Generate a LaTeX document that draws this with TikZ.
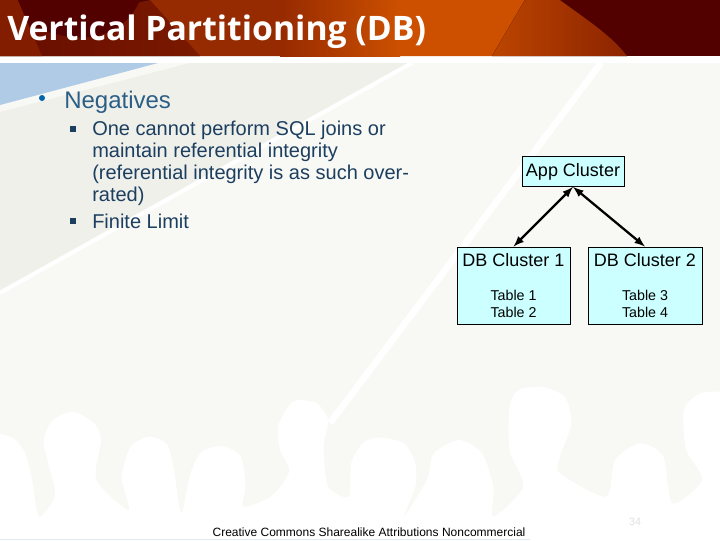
\documentclass[tikz,border=0pt]{standalone}
\usepackage{fontspec}
\setmainfont{Liberation Sans}
\newfontfamily\titlefont{Open Sans}
\newcommand{\tablefont}{\fontsize{10.7}{12.75}\selectfont}
\newcommand{\clusterfont}{\fontsize{13.5}{15}\selectfont}
\definecolor{bandDark}{HTML}{520000}
\definecolor{bandRed}{HTML}{962A00}
\definecolor{bandOrange}{HTML}{CC5000}
\definecolor{paleGround}{HTML}{F8F8F4}
\definecolor{greyWedge}{HTML}{F0F0EB}
\definecolor{blueWedge}{HTML}{B0CBE6}
\definecolor{boxCyan}{HTML}{CCFFFF}
\definecolor{headBlue}{HTML}{2B5F85}
\definecolor{subBlue}{HTML}{1C3F60}
\tikzset{
    cluster/.style={draw=black, line width=0.6pt, fill=boxCyan, inner sep=0pt, align=center},
    link/.style={line width=1.7pt, latex-latex},
    subbullet/.style={fill=subBlue, inner sep=0pt, minimum size=3.8pt}
}
\begin{document}
\begin{tikzpicture}[x=0.75pt, y=-0.75pt]
    \useasboundingbox (0,0) rectangle (720,540);
    % background of the slide
    \fill[white] (0,0) rectangle (720,540);
    \fill[paleGround] (0,63) rectangle (720,540);
    \fill[greyWedge] (190,63) -- (407,63) -- (0,290) -- (0,112) -- cycle;
    \draw[white, line width=3pt] (412,63) -- (0,293);
    \fill[blueWedge] (0,63) -- (158,63) -- (0,105) -- cycle;
    \draw[white, line width=5pt] (601,63) -- (330,423);

    % white heads along the bottom
    \begin{scope}[shift={(0,340)}, xscale=0.459, yscale=0.3333]
        \fill[white] plot[smooth, tension=0.45] coordinates {(-5,280) (30,295) (55,340) (70,420) (85,530) (120,465) (105,370) (95,300) (115,240) (160,215) (205,250) (220,300) (210,420) (280,510) (265,410) (285,320) (325,290) (365,315) (380,400) (395,520) (415,400) (440,335) (485,318) (525,350) (535,440) (530,500) (590,470) (630,395) (610,330) (605,260) (630,195) (650,180) (690,190) (715,240) (705,320) (715,440) (760,470) (765,370) (790,310) (825,292) (880,310) (905,370) (905,440) (880,530) (930,420) (945,340) (1000,300) (1050,340) (1075,440) (1075,530) (1140,440) (1110,330) (1110,200) (1130,150) (1180,140) (1230,170) (1245,250) (1220,350) (1220,400) (1320,470) (1340,360) (1395,310) (1445,350) (1465,490) (1530,420) (1495,330) (1490,210) (1525,160) (1575,155)} -- (1575,600) -- (-5,600) -- cycle;
    \end{scope}
    \fill[blueWedge!40] (0,538.5) rectangle (530,540);

    % title band
    \fill[bandDark] (0,0) rectangle (720,56);
    \fill[left color=bandDark!70!bandRed, right color=bandRed!60!bandDark] (0,56) -- (0,28) -- (150,0) -- (200,56) -- cycle;
    \fill[bandRed] (150,0) -- (281,0) -- (281,56) -- (200,56) -- cycle;
    \fill[left color=bandRed, right color=bandOrange] (280,0) rectangle (400,56);
    \fill[bandOrange] (399.5,0) -- (530,0) -- (492,56) -- (399.5,56) -- cycle;
    \fill[left color=bandOrange!70!bandRed, right color=bandRed!85!bandDark] (525,0) -- (560,0) .. controls (590,22) and (612,36) .. (627,56) -- (492,56) -- cycle;
    \fill[bandRed!70!bandDark] (0,0) -- (18,0) -- (42,56) -- (0,56) -- cycle;
    \fill[bandDark] (18,0) -- (140,0) .. controls (130,25) and (100,45) .. (60,35) -- (30,28) -- cycle;
    \node[anchor=west, text=white, inner sep=0pt, font=\titlefont\bfseries\fontsize{25.3}{28}\selectfont] (title) at (7,32) {Vertical Partitioning (DB)};

    % bullets on the left
    \fill[blue!45!black!60!cyan] (42,98) circle (3);
    \node[anchor=west, text=headBlue, font=\fontsize{18}{22}\selectfont, inner sep=0pt] (negatives) at (64,102) {Negatives};
    \node[subbullet] (bulleta) at (73,129) {};
    \node[anchor=north west, text=subBlue, align=left, font=\fontsize{15}{16.5}\selectfont, inner sep=0pt] (joins) at (92,121) {One cannot perform SQL joins or\\maintain referential integrity\\(referential integrity is as such over-\\rated)};
    \node[subbullet] (bulletb) at (73,221) {};
    \node[anchor=west, text=subBlue, font=\fontsize{15}{16.5}\selectfont, inner sep=0pt] (limit) at (92,221) {Finite Limit};

    % clusters
    \node[cluster, minimum width=76.5pt, minimum height=22.5pt, font=\clusterfont] (app) at (573,171.5) {App Cluster};
    \node[cluster, minimum width=84.75pt, minimum height=57.75pt] (dba) at (513.5,285.5) {\clusterfont DB Cluster 1\\[13.5pt]\tablefont Table 1\\[0.7pt]\tablefont Table 2};
    \node[cluster, minimum width=85.5pt, minimum height=57.75pt] (dbb) at (645,285.5) {\clusterfont DB Cluster 2\\[13.5pt]\tablefont Table 3\\[0.7pt]\tablefont Table 4};
    \draw[link] (app.south) -- (dba.north);
    \draw[link] (app.south) -- (dbb.north);

    % footer
    \node[text=black, font=\fontsize{9}{10}\selectfont, inner sep=0pt] (footer) at (369,532) {Creative Commons Sharealike Attributions Noncommercial};
    \node[text=black!12, font=\fontsize{8}{10}\selectfont, inner sep=0pt] (page) at (635,522) {34};
\end{tikzpicture}
\end{document}
